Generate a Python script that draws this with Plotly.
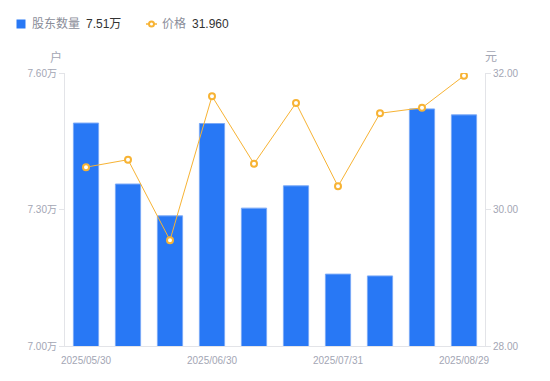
import plotly.graph_objects as go

dates = ["2025/05/30", "2025/06/10", "2025/06/20", "2025/06/30", "2025/07/10",
         "2025/07/20", "2025/07/31", "2025/08/10", "2025/08/20", "2025/08/29"]
holders = [7.490, 7.356, 7.286, 7.489, 7.303, 7.352, 7.158, 7.154, 7.521, 7.508]  # 万户
price = [30.62, 30.73, 29.55, 31.66, 30.67, 31.56, 30.34, 31.41, 31.49, 31.96]
xtick_labels = ["2025/05/30", "2025/06/30", "2025/07/31", "2025/08/29"]
left_ticks = [7.00, 7.30, 7.60]
right_ticks = [28.00, 30.00, 32.00]

idx = list(range(len(dates)))
xtick_pos = [dates.index(d) for d in xtick_labels]

FONT = "Liberation Sans, Arial, Noto Sans CJK SC, sans-serif"
GRAY = "#a3a6b4"
LEG = "#8a8d99"
DARK = "#333333"
AXIS = "#e3e4e8"
BLUE = "#2878f5"
ORANGE = "#f7b334"

# plot area on screen: x 65..485, y 73..346
def px(x):
    return (x - 65) / 420.0

def py(y):
    return (346 - y) / 273.0

fig = go.Figure()
fig.add_trace(go.Bar(
    x=idx, y=holders, name="股东数量", showlegend=False,
    marker=dict(color=BLUE, line=dict(color="#7aa9f7", width=1)),
    width=0.6, customdata=dates,
))
fig.add_trace(go.Scatter(
    x=idx, y=price, yaxis="y2", mode="lines+markers", name="价格", showlegend=False,
    line=dict(color=ORANGE, width=1),
    marker=dict(symbol="circle", size=6, color="white", line=dict(color=ORANGE, width=2)),
))

shapes = [
    dict(type="rect", xref="paper", yref="paper", x0=px(16.5), x1=px(25.5), y0=py(28.5), y1=py(19.5),
         fillcolor=BLUE, line=dict(width=0)),
    dict(type="line", xref="paper", yref="paper", x0=px(146), x1=px(157), y0=py(24), y1=py(24),
         line=dict(color=ORANGE, width=1.5)),
    dict(type="circle", xref="paper", yref="paper", x0=px(149), x1=px(154), y0=py(26.5), y1=py(21.5),
         fillcolor="white", line=dict(color=ORANGE, width=2)),
]

annotations = [
    dict(text="股东数量", x=px(30), y=py(24), xanchor="left", font=dict(size=12, color=LEG)),
    dict(text="%.2f万" % holders[-1], x=px(84), y=py(24), xanchor="left", font=dict(size=12, color=DARK)),
    dict(text="价格", x=px(160), y=py(24), xanchor="left", font=dict(size=12, color=LEG)),
    dict(text="%.3f" % price[-1], x=px(190), y=py(24), xanchor="left", font=dict(size=12, color=DARK)),
    dict(text="户", x=px(64), y=py(57), xanchor="right", font=dict(size=12, color=GRAY)),
    dict(text="元", x=px(483), y=py(57), xanchor="left", font=dict(size=12, color=GRAY)),
]
for a in annotations:
    a.update(xref="paper", yref="paper", showarrow=False, yanchor="middle")

fig.update_layout(
    width=550, height=381,
    margin=dict(l=57, r=73, t=65, b=43),
    paper_bgcolor="white", plot_bgcolor="white",
    font=dict(family=FONT, size=12, color=GRAY),
    showlegend=False,
    bargap=0.4,
    shapes=shapes,
    annotations=annotations,
    xaxis=dict(range=[-0.5, 9.5], tickmode="array", tickvals=xtick_pos, ticktext=xtick_labels,
               showgrid=False, zeroline=False, showline=True, linecolor=AXIS, linewidth=1,
               ticks="", ticklabelstandoff=5, tickfont=dict(size=10, color=GRAY), fixedrange=True),
    yaxis=dict(range=[7.0, 7.6], tickmode="array", tickvals=left_ticks,
               ticktext=["%.2f万" % v for v in left_ticks],
               showgrid=False, zeroline=False, showline=True, linecolor=AXIS, linewidth=1,
               ticks="outside", ticklen=5, tickcolor=AXIS, tickfont=dict(size=10, color=GRAY)),
    yaxis2=dict(range=[28, 32], overlaying="y", side="right", tickmode="array",
                tickvals=right_ticks, ticktext=["%.2f" % v for v in right_ticks],
                showgrid=False, zeroline=False, showline=True, linecolor=AXIS, linewidth=1,
                ticks="outside", ticklen=5, tickcolor=AXIS, tickfont=dict(size=10, color=GRAY)),
)

fig.write_html("out.html")
